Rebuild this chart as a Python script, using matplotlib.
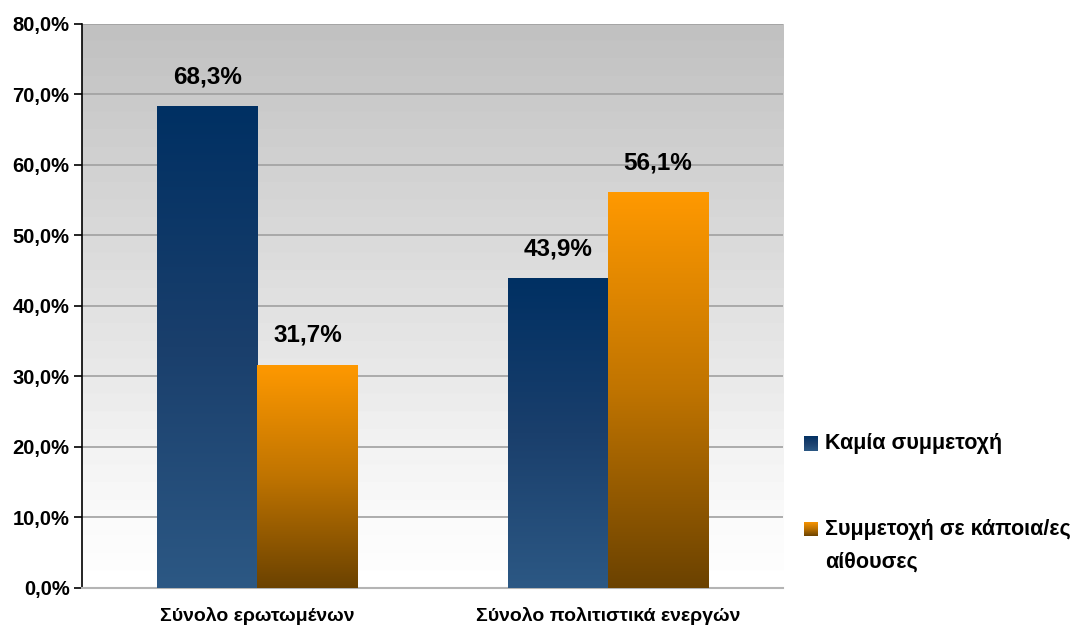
import matplotlib
matplotlib.use('Agg')
import matplotlib.pyplot as plt
import numpy as np
from matplotlib.colors import LinearSegmentedColormap
from matplotlib.ticker import FuncFormatter

# ── Datos ──
categorias = ['Σύνολο ερωτωμένων', 'Σύνολο πολιτιστικά ενεργών']
series = ['Καμία συμμετοχή', 'Συμμετοχή σε κάποια/ες\nαίθουσες']
valores_ninguna = [68.3, 43.9]
valores_alguna = [31.7, 56.1]
yticks = [0, 10, 20, 30, 40, 50, 60, 70, 80]

plt.rcParams['font.family'] = ['Liberation Sans', 'DejaVu Sans']

# gradientes (abajo -> arriba)
cmap_azul = LinearSegmentedColormap.from_list('azul', ['#2c5884', '#1a3f6c', '#003063'])
cmap_naranja = LinearSegmentedColormap.from_list('naranja', ['#6b4200', '#c07400', '#ff9900'])
cmap_fondo = LinearSegmentedColormap.from_list(
    'fondo', [(0, '#ffffff'), (0.1, '#fbfbfb'), (1, '#c0c0c0')])

fig = plt.figure(figsize=(10.78, 6.33), dpi=100)
ax = fig.add_axes([0.0761, 0.0711, 0.6503, 0.891])

# fondo con bandas suaves
bandas = np.floor(np.linspace(0, 1, 512) * 32) / 32
ax.imshow(bandas[:, None], cmap=cmap_fondo, origin='lower', aspect='auto',
          extent=[0, 1, 0, 1], transform=ax.transAxes, zorder=0, vmin=0, vmax=1)

x = np.arange(len(categorias)) + 0.5
ancho = 0.2857
grad = np.linspace(0, 1, 256)[:, None]


def barras_gradiente(xs, vals, cmap):
    bars = ax.bar(xs, vals, width=ancho, color='none', edgecolor='none', zorder=3)
    for b in bars:
        x0, y0 = b.get_x(), b.get_y()
        w, h = b.get_width(), b.get_height()
        im = ax.imshow(grad, cmap=cmap, origin='lower', aspect='auto',
                       extent=[x0, x0 + w, y0, y0 + h], zorder=3)
        im.set_clip_path(b)
        ax.annotate(f'{h:.1f}%'.replace('.', ','), (x0 + w / 2, h),
                    xytext=(0, 13), textcoords='offset points',
                    ha='center', va='bottom', fontsize=17.5, fontweight='bold')
    return bars


barras_gradiente(x - ancho / 2, valores_ninguna, cmap_azul)
barras_gradiente(x + ancho / 2, valores_alguna, cmap_naranja)

ax.set_xlim(0, 2)
ax.set_ylim(0, 80)
ax.set_yticks(yticks)
ax.yaxis.set_major_formatter(FuncFormatter(lambda v, p: f'{v:.1f}%'.replace('.', ',')))
ax.set_xticks(x)
ax.set_xticklabels(categorias)
ax.tick_params(axis='x', length=0, pad=14, labelsize=14)
ax.tick_params(axis='y', length=6, width=1.2, direction='out', labelsize=14.5, pad=3)
for lab in ax.get_xticklabels() + ax.get_yticklabels():
    lab.set_fontweight('bold')

ax.yaxis.grid(True, color='#a0a0a0', linewidth=1.2, zorder=1)
ax.set_axisbelow(True)
for s in ['top', 'right']:
    ax.spines[s].set_visible(False)
ax.spines['left'].set_color('black')
ax.spines['left'].set_linewidth(1.2)
ax.spines['bottom'].set_color('#b4b4b4')
ax.spines['bottom'].set_linewidth(1.5)

# ── Leyenda manual (cuadros con gradiente) ──
W, H = 1078, 633
leyenda = [(series[0], cmap_azul, 443), (series[1], cmap_naranja, 529)]
for texto, cmap, yc in leyenda:
    cax = fig.add_axes([804 / W, 1 - (yc + 7.5) / H, 14 / W, 15 / H])
    cax.imshow(grad, cmap=cmap, origin='lower', aspect='auto')
    cax.axis('off')
    fig.text(825 / W, 1 - (yc - 10) / H, texto, ha='left', va='top',
             fontsize=15.5, fontweight='bold', linespacing=1.7)

plt.savefig('out.png', dpi=100)
plt.close()
